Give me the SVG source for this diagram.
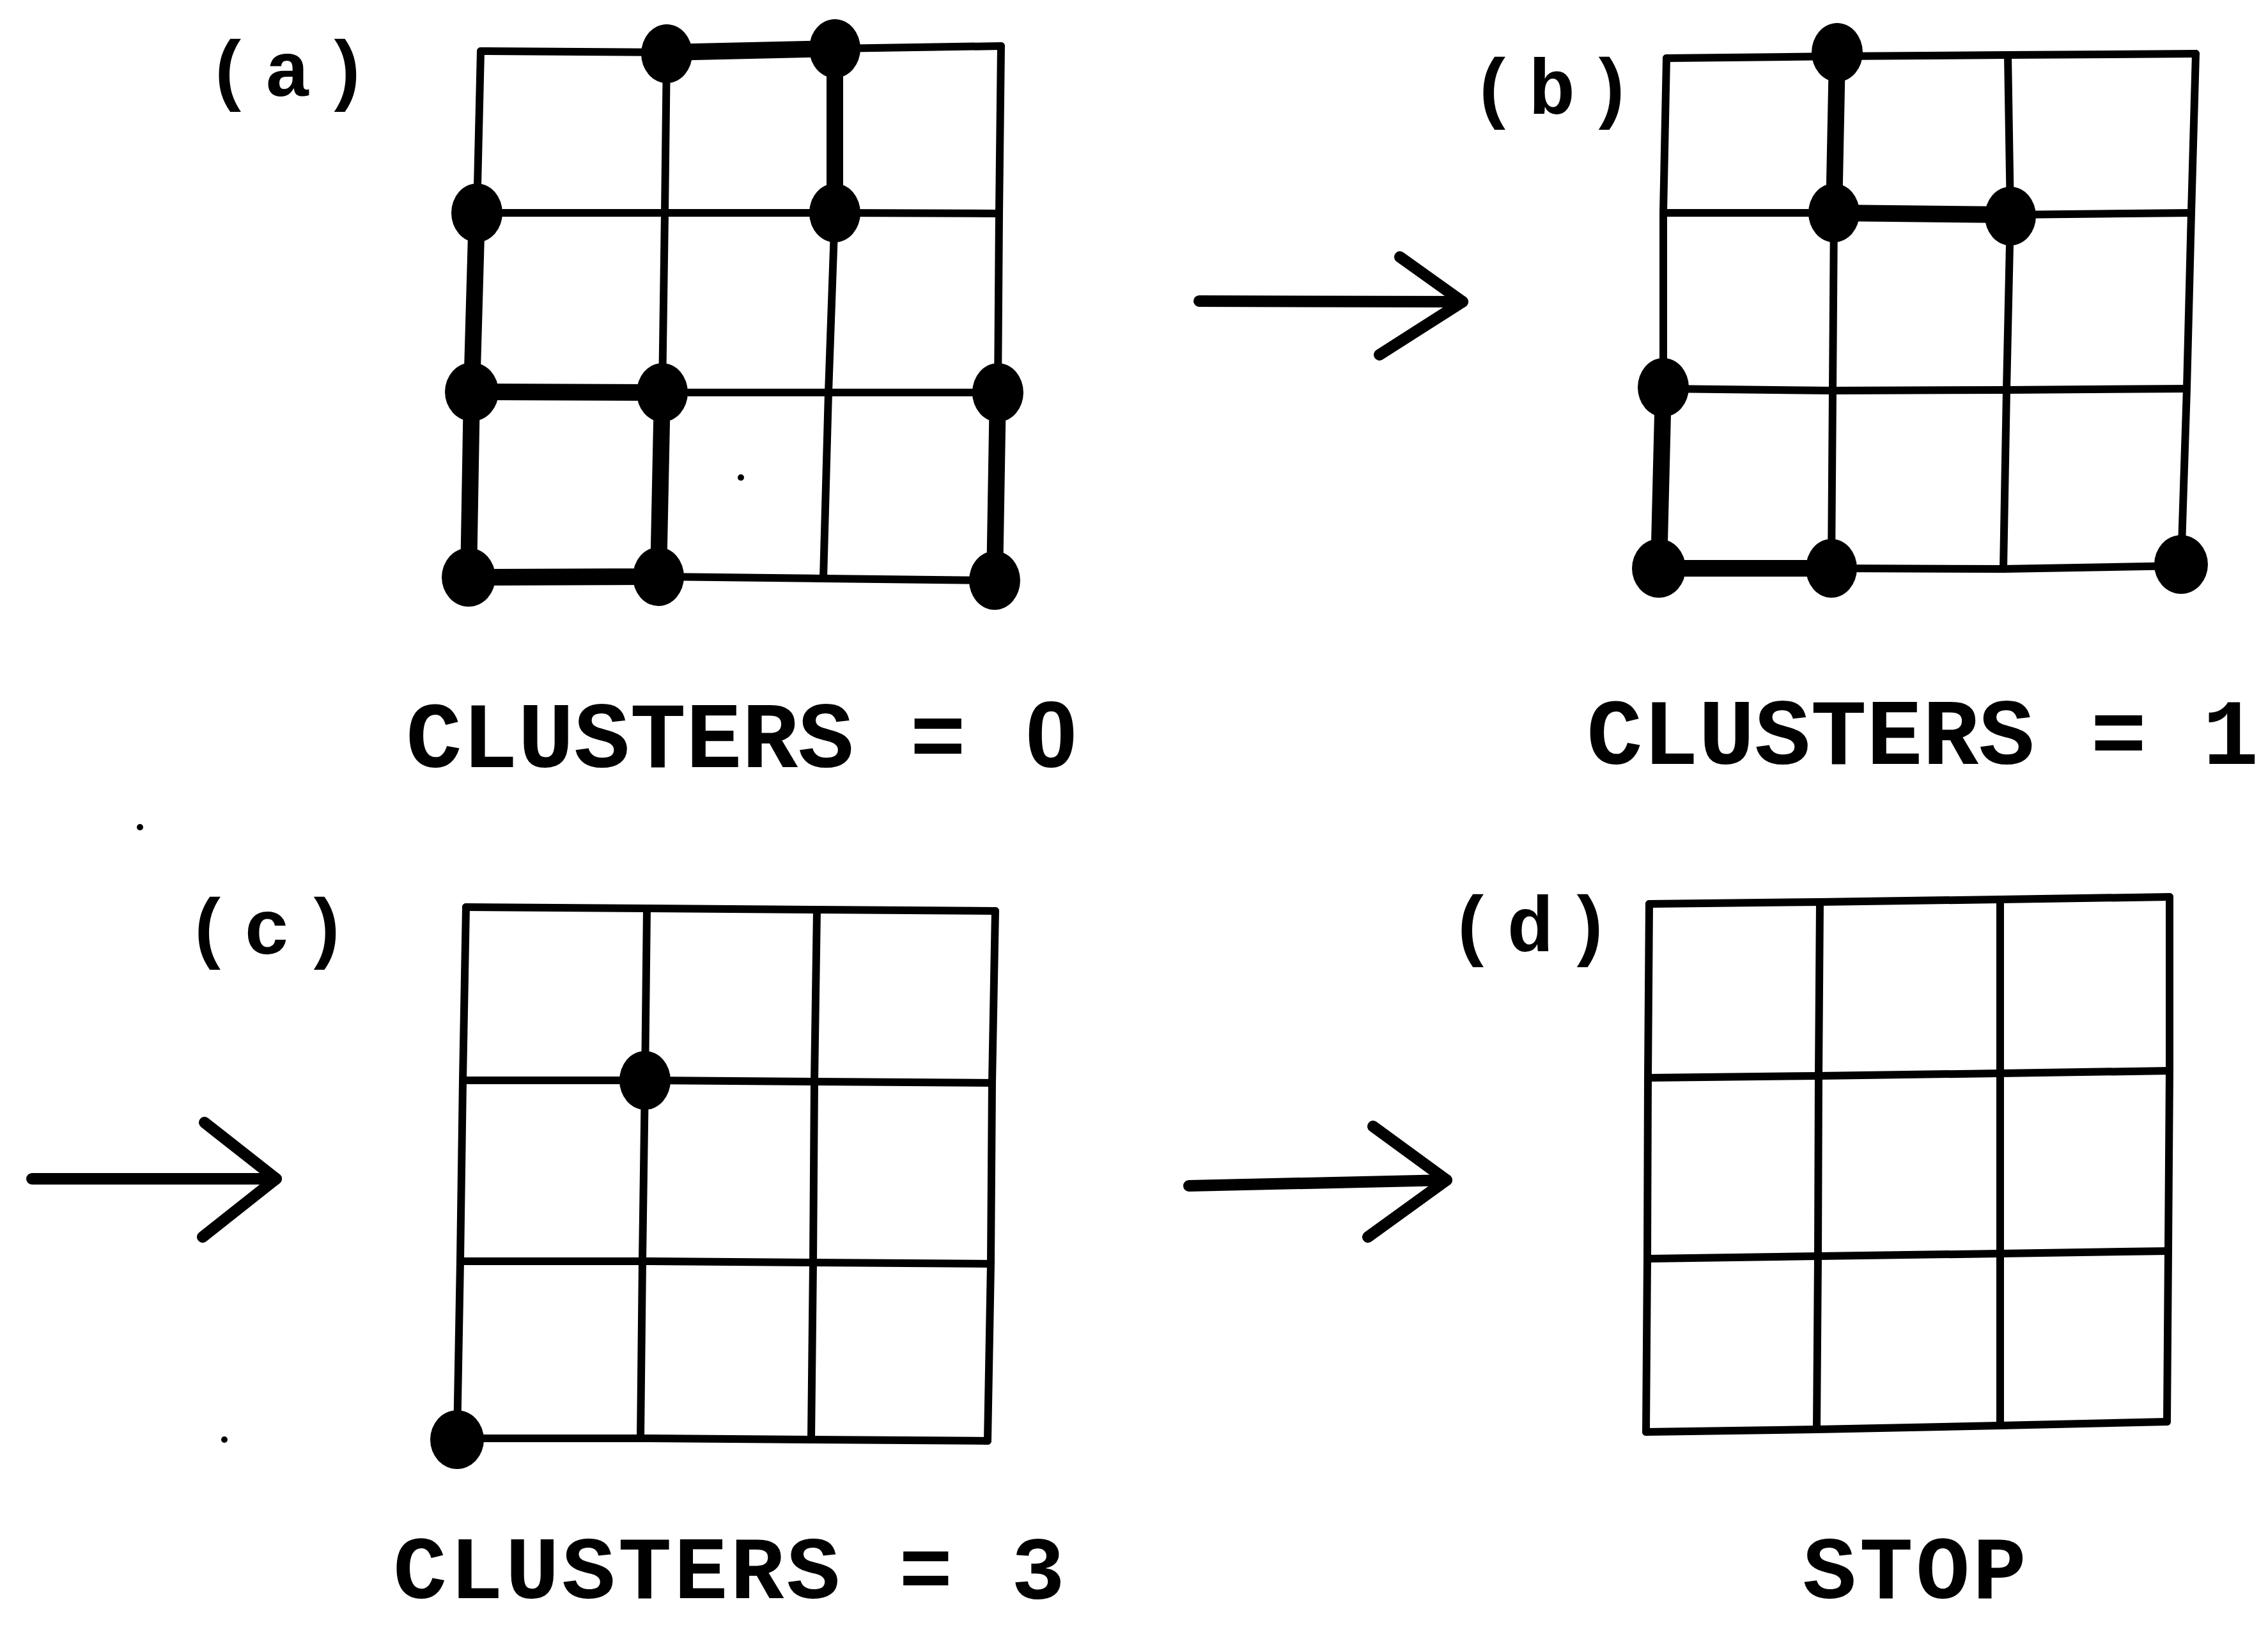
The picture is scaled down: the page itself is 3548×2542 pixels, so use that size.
<svg xmlns="http://www.w3.org/2000/svg" width="3548" height="2542" viewBox="0 0 3548 2542">
<style>
.bg{fill:#fff}
.g{fill:none;stroke:#000;stroke-width:12;stroke-linecap:round;stroke-linejoin:round}
.t{fill:none;stroke:#000;stroke-width:26;stroke-linecap:round;stroke-linejoin:round}
.a{fill:none;stroke:#000;stroke-width:18;stroke-linecap:round;stroke-linejoin:round}
.d{fill:#000}
.lab{font-family:"Liberation Mono","DejaVu Sans Mono",monospace;font-size:122px;font-weight:bold;fill:#000;letter-spacing:18px}
.cap{font-family:"Liberation Mono","DejaVu Sans Mono",monospace;font-size:146px;font-weight:bold;fill:#000}
.capb{font-family:"Liberation Mono","DejaVu Sans Mono",monospace;font-size:140px;font-weight:bold;fill:#000}
.z{font-family:"Liberation Sans","Arial",sans-serif;font-weight:bold}
</style>
<rect class="bg" x="0" y="0" width="3548" height="2542"/>

<g id="panel-a">
<text class="lab" x="322" y="150">(a)</text>
<polyline class="g" points="752,80 1043,82 1306,76 1566,72"/>
<polyline class="g" points="746,333 1040,333 1306,333 1563,334"/>
<polyline class="g" points="738,613 1036,614 1296,614 1561,614"/>
<polyline class="g" points="733,903 1030,902 1288,905 1556,908"/>
<polyline class="g" points="752,80 746,333 738,613 733,903"/>
<polyline class="g" points="1043,82 1040,333 1036,614 1030,902"/>
<polyline class="g" points="1306,76 1306,333 1296,614 1288,905"/>
<polyline class="g" points="1566,72 1563,334 1561,614 1556,908"/>
<polyline class="t" points="1043,82 1306,76 1306,333"/>
<polyline class="t" points="746,333 738,613 733,903 1030,902 1036,614 738,613"/>
<polyline class="t" points="1561,614 1556,908"/>
<ellipse class="d" cx="1043" cy="84" rx="40" ry="46"/>
<ellipse class="d" cx="1306" cy="76" rx="40" ry="46"/>
<ellipse class="d" cx="746" cy="333" rx="40" ry="46"/>
<ellipse class="d" cx="1306" cy="333" rx="40" ry="46"/>
<ellipse class="d" cx="738" cy="613" rx="42" ry="46"/>
<ellipse class="d" cx="1036" cy="614" rx="40" ry="46"/>
<ellipse class="d" cx="1561" cy="614" rx="40" ry="46"/>
<ellipse class="d" cx="733" cy="903" rx="42" ry="46"/>
<ellipse class="d" cx="1030" cy="902" rx="40" ry="46"/>
<ellipse class="d" cx="1556" cy="908" rx="40" ry="46"/>
<circle class="d" cx="1159" cy="747" r="5"/>
<text class="cap" x="635" y="1200">CLUSTERS = <tspan class="z" x="1604">0</tspan></text>
</g>

<g id="panel-b">
<text class="lab" x="2300" y="178">(b)</text>
<polyline class="g" points="2607,91 2874,88 3141,86 3435,84"/>
<polyline class="g" points="2602,333 2869,333 3145,336 3428,333"/>
<polyline class="g" points="2602,608 2867,611 3139,610 3421,608"/>
<polyline class="g" points="2595,889 2865,889 3134,890 3412,885"/>
<polyline class="g" points="2607,91 2602,333 2602,608 2595,889"/>
<polyline class="g" points="2874,88 2869,333 2867,611 2865,889"/>
<polyline class="g" points="3141,86 3145,336 3139,610 3134,890"/>
<polyline class="g" points="3435,84 3428,333 3421,608 3412,885"/>
<polyline class="t" points="2874,88 2869,333 3145,336"/>
<polyline class="t" points="2602,608 2595,889 2865,889"/>
<ellipse class="d" cx="2874" cy="82" rx="40" ry="46"/>
<ellipse class="d" cx="2869" cy="333" rx="40" ry="46"/>
<ellipse class="d" cx="3145" cy="338" rx="40" ry="46"/>
<ellipse class="d" cx="2602" cy="606" rx="40" ry="46"/>
<ellipse class="d" cx="2595" cy="889" rx="42" ry="46"/>
<ellipse class="d" cx="2865" cy="889" rx="40" ry="46"/>
<ellipse class="d" cx="3412" cy="883" rx="42" ry="46"/>
<text class="cap" x="2482" y="1195">CLUSTERS = 1</text>
</g>

<g id="panel-c">
<text class="lab" x="290" y="1492">(c)</text>
<polyline class="g" points="729,1419 1012,1421 1278,1423 1557,1425"/>
<polyline class="g" points="724,1690 1009,1690 1274,1692 1552,1694"/>
<polyline class="g" points="720,1973 1005,1973 1272,1975 1550,1977"/>
<polyline class="g" points="715,2250 1002,2250 1269,2252 1545,2254"/>
<polyline class="g" points="729,1419 724,1690 720,1973 715,2250"/>
<polyline class="g" points="1012,1421 1009,1690 1005,1973 1002,2250"/>
<polyline class="g" points="1278,1423 1274,1692 1272,1975 1269,2252"/>
<polyline class="g" points="1557,1425 1552,1694 1550,1977 1545,2254"/>
<ellipse class="d" cx="1009" cy="1690" rx="40" ry="46"/>
<ellipse class="d" cx="715" cy="2252" rx="42" ry="46"/>
<circle class="d" cx="219" cy="1294" r="5"/>
<circle class="d" cx="351" cy="2252" r="5"/>
<text class="capb" x="615" y="2500" textLength="1051" lengthAdjust="spacing">CLUSTERS = 3</text>
</g>

<g id="panel-d">
<text class="lab" x="2266" y="1488">(d)</text>
<polyline class="g" points="2580,1414 2847,1411 3129,1407 3394,1403"/>
<polyline class="g" points="2578,1686 2845,1683 3129,1679 3394,1675"/>
<polyline class="g" points="2577,1969 2844,1965 3129,1961 3392,1957"/>
<polyline class="g" points="2575,2240 2842,2236 3129,2230 3390,2224"/>
<polyline class="g" points="2580,1414 2578,1686 2577,1969 2575,2240"/>
<polyline class="g" points="2847,1411 2845,1683 2844,1965 2842,2236"/>
<polyline class="g" points="3129,1407 3129,1679 3129,1961 3129,2230"/>
<polyline class="g" points="3394,1403 3394,1675 3392,1957 3390,2224"/>
<text class="capb" x="2820" y="2500" textLength="350" lengthAdjust="spacing">STOP</text>
</g>

<g id="connectors">
<polyline class="a" points="1876,471 2288,472"/>
<polyline class="a" points="2190,402 2288,472 2158,555"/>
<polyline class="a" points="50,1844 432,1844"/>
<polyline class="a" points="320,1756 432,1844 317,1935"/>
<polyline class="a" points="1860,1855 2263,1846"/>
<polyline class="a" points="2148,1762 2263,1846 2140,1935"/>
</g>
</svg>
